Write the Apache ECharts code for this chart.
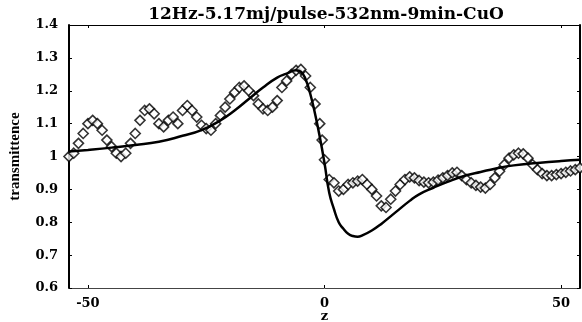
<!DOCTYPE html>
<html>
<head>
<meta charset="utf-8">
<script src="https://cdn.jsdelivr.net/npm/echarts@6/dist/echarts.min.js"></script>
<style>
  html, body { margin: 0; padding: 0; background: #fff; }
  #main { width: 582px; height: 322px; }
</style>
</head>
<body>
<div id="main"></div>
<script>
// measured z positions and transmittance (diamonds)
const zData = [
  -54, -53, -52, -51, -50, -49, -48, -47, -46, -45, -44, -43, -42, -41, -40, -39, -38, -37, -36, -35,
  -34, -33, -32, -31, -30, -29, -28, -27, -26, -25, -24, -23, -22, -21, -20, -19, -18, -17, -16, -15,
  -14, -13, -12, -11, -10, -9, -8, -7, -6, -5, -4, -3, -2, -1, -0.5, 0, 1, 2, 3, 4,
  5, 6, 7, 8, 9, 10, 11, 12, 13, 14, 15, 16, 17, 18, 19, 20, 21, 22, 23, 24,
  25, 26, 27, 28, 29, 30, 31, 32, 33, 34, 35, 36, 37, 38, 39, 40, 41, 42, 43, 44,
  45, 46, 47, 48, 49, 50, 51, 52, 53, 54
];
const tData = [
  1.00, 1.01, 1.04, 1.07, 1.10, 1.11, 1.10, 1.08, 1.05, 1.03, 1.01, 1.00, 1.01, 1.04, 1.07, 1.11, 1.14, 1.145, 1.13, 1.10,
  1.09, 1.11, 1.12, 1.10, 1.14, 1.155, 1.14, 1.12, 1.095, 1.085, 1.08, 1.10, 1.125, 1.15, 1.175, 1.195, 1.21, 1.215, 1.20, 1.185,
  1.16, 1.145, 1.14, 1.15, 1.17, 1.21, 1.23, 1.25, 1.262, 1.265, 1.245, 1.21, 1.16, 1.10, 1.05, 0.99, 0.93, 0.92, 0.895, 0.90,
  0.915, 0.92, 0.925, 0.93, 0.915, 0.90, 0.88, 0.85, 0.845, 0.87, 0.895, 0.915, 0.93, 0.938, 0.935, 0.927, 0.922, 0.92, 0.922, 0.928,
  0.935, 0.942, 0.95, 0.952, 0.942, 0.93, 0.92, 0.912, 0.907, 0.904, 0.915, 0.935, 0.955, 0.975, 0.995, 1.005, 1.01, 1.008, 0.995, 0.975,
  0.96, 0.948, 0.942, 0.942, 0.945, 0.948, 0.952, 0.956, 0.96, 0.965
];

// fitted curve
const zFit = [
  -54, -50, -45, -40, -35, -30, -26, -22, -19, -16, -13, -10, -8, -6, -5, -4, -3, -2, -1, 0,
  1, 2, 3, 4, 5, 6, 7, 8, 10, 12, 15, 18, 20, 23, 26, 30, 33, 36, 40, 45, 50, 54
];
const tFit = [
  1.015, 1.02, 1.027, 1.035, 1.045, 1.063, 1.08, 1.11, 1.14, 1.175, 1.21, 1.24, 1.252, 1.262, 1.258, 1.235, 1.19, 1.13, 1.06, 0.98,
  0.89, 0.84, 0.80, 0.78, 0.765, 0.758, 0.756, 0.76, 0.775, 0.795, 0.83, 0.865, 0.885, 0.905, 0.923, 0.943, 0.953, 0.963, 0.973, 0.98, 0.986, 0.99
];

const xTicks = [-50, 0, 50];
const yTicks = [0.6, 0.7, 0.8, 0.9, 1.0, 1.1, 1.2, 1.3, 1.4];

const wideFont = "'DejaVu Serif', 'Liberation Serif', serif";
const narrowFont = "'Liberation Serif', 'DejaVu Serif', serif";
const chart = echarts.init(document.getElementById('main'));

const yLabel = v => (Math.abs(v - 1) < 1e-9 ? '1' : v.toFixed(1));

chart.setOption({
  animation: false,
  backgroundColor: '#fff',
  title: {
    text: '12Hz-5.17mj/pulse-532nm-9min-CuO',
    left: 326,
    textAlign: 'center',
    top: 6,
    padding: 0,
    textStyle: { fontFamily: wideFont, fontWeight: 'bold', fontSize: 17, color: '#000' }
  },
  grid: { left: 69, right: 2, top: 25, bottom: 34, containLabel: false, outerBoundsMode: 'none' },
  xAxis: [
    {
      type: 'value', min: -54, max: 54,
      name: 'z', nameLocation: 'middle', nameGap: 22, nameMoveOverlap: false,
      nameTextStyle: { fontFamily: wideFont, fontWeight: 'bold', fontSize: 13, color: '#000' },
      axisLine: { onZero: false, lineStyle: { color: '#444', width: 1 } },
      axisTick: { inside: true, length: 3, customValues: xTicks, lineStyle: { color: '#000' } },
      axisLabel: { customValues: xTicks, fontFamily: wideFont, fontWeight: 'bold', fontSize: 13, color: '#000', margin: 9 },
      splitLine: { show: false }
    },
    {
      type: 'value', min: -54, max: 54, position: 'top',
      axisLine: { onZero: false, lineStyle: { color: '#000', width: 1 } },
      axisTick: { inside: true, length: 3, customValues: xTicks, lineStyle: { color: '#000' } },
      axisLabel: { show: false },
      splitLine: { show: false }
    }
  ],
  yAxis: [
    {
      type: 'value', min: 0.6, max: 1.4, interval: 0.1,
      name: 'transmittence', nameLocation: 'middle', nameGap: 46, nameMoveOverlap: false,
      nameTextStyle: { fontFamily: narrowFont, fontWeight: 'bold', fontSize: 15, color: '#000' },
      axisLine: { show: true, onZero: false, lineStyle: { color: '#000', width: 2 } },
      axisTick: { inside: true, length: 3, customValues: yTicks, lineStyle: { color: '#000' } },
      axisLabel: { customValues: yTicks, formatter: yLabel, fontFamily: wideFont, fontWeight: 'bold', fontSize: 13, color: '#000', margin: 11 },
      splitLine: { show: false }
    },
    {
      type: 'value', min: 0.6, max: 1.4, interval: 0.1, position: 'right',
      axisLine: { show: true, onZero: false, lineStyle: { color: '#000', width: 2 } },
      axisTick: { inside: true, length: 3, customValues: yTicks, lineStyle: { color: '#000' } },
      axisLabel: { show: false },
      splitLine: { show: false }
    }
  ],
  series: [
    {
      type: 'scatter',
      symbol: 'diamond',
      symbolSize: 10,
      data: zData.map((z, i) => [z, tData[i]]),
      itemStyle: { color: '#fff', borderColor: '#000', borderWidth: 1.6 },
      z: 2
    },
    {
      type: 'line',
      smooth: true,
      showSymbol: false,
      data: zFit.map((z, i) => [z, tFit[i]]),
      lineStyle: { color: '#000', width: 2.5 },
      z: 3
    }
  ]
});
</script>
</body>
</html>
